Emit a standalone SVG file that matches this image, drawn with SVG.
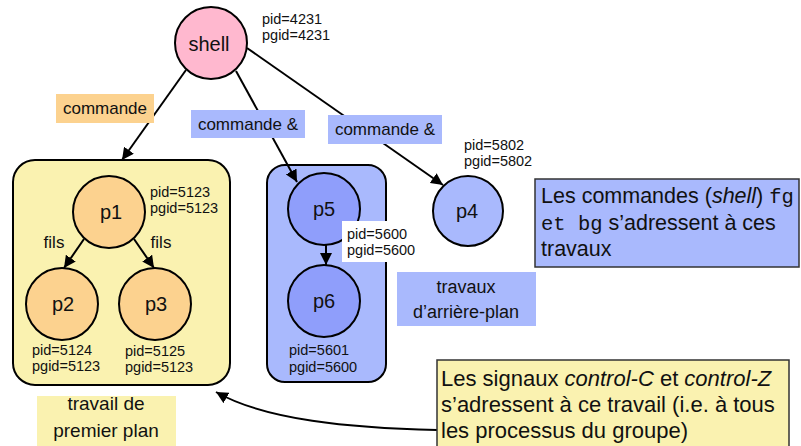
<svg xmlns="http://www.w3.org/2000/svg" width="801" height="446" viewBox="0 0 801 446">
<defs>
<style>
text{font-family:"Liberation Sans",Arial,sans-serif;fill:#111}
.node{stroke:#000;stroke-width:2}
.pink{fill:#FFB8CF}
.orange{fill:#FCD28F}
.blue{fill:#A9B9FD}
.dblue{fill:#8F9EFB}
.yellow{fill:#FAF2B0}
.lbl{font-size:20px;text-anchor:middle}
.pid{font-size:14.5px}
.tag{font-size:17px;text-anchor:middle}
.note{font-size:21.5px}
.note2{font-size:22px}
.mono{font-family:"Liberation Mono","Courier New",monospace;font-size:20.5px}
.conn{fill:none;stroke:#000;stroke-width:2;marker-end:url(#arr)}
.box{stroke:#000;stroke-width:2}
.nbox{stroke:#333;stroke-width:1.5}
</style>
<marker id="arr" markerUnits="userSpaceOnUse" markerWidth="14" markerHeight="12" refX="12" refY="6" orient="auto">
<path d="M0,0 L12,6 L0,12 Z" fill="#000"/>
</marker>
</defs>
<rect width="801" height="446" fill="#fff"/>

<g id="job-foreground">
<rect class="yellow box" x="13" y="160" width="217" height="225" rx="22"/>
</g>
<g id="job-background">
<rect class="blue box" x="267" y="165" width="119" height="217" rx="18"/>
</g>

<g id="connectors">
<line class="conn" x1="186" y1="70" x2="122" y2="160"/>
<line class="conn" x1="236" y1="71" x2="297" y2="182"/>
<line class="conn" x1="247" y1="48" x2="443" y2="185"/>
<line class="conn" x1="84" y1="239" x2="64" y2="268"/>
<line class="conn" x1="134" y1="239" x2="154" y2="268"/>
<line class="conn" x1="326" y1="245" x2="326" y2="265"/>
<path class="conn" d="M437,430 C350,428 265,420 216,392"/>
</g>

<g id="shell">
<circle class="node pink" cx="211" cy="43" r="36"/>
<text class="lbl" x="209" y="51">shell</text>
<text class="pid" x="262" y="24">pid=4231</text>
<text class="pid" x="262" y="40">pgid=4231</text>
</g>

<g id="label-commande">
<rect class="orange" x="56" y="94" width="98" height="29"/>
<text class="tag" x="105" y="114">commande</text>
</g>
<g id="label-commande-bg1">
<rect class="blue" x="191" y="110" width="114" height="28"/>
<text class="tag" x="248" y="130">commande &amp;</text>
</g>
<g id="label-commande-bg2">
<rect class="blue" x="328" y="115" width="114" height="29"/>
<text class="tag" x="385" y="135">commande &amp;</text>
</g>

<g id="p1">
<circle class="node orange" cx="109" cy="212" r="36"/>
<text class="lbl" x="111" y="219">p1</text>
<text class="pid" x="150" y="197">pid=5123</text>
<text class="pid" x="150" y="213">pgid=5123</text>
<text class="tag" x="54" y="248">fils</text>
<text class="tag" x="161" y="248">fils</text>
</g>
<g id="p2">
<circle class="node orange" cx="62" cy="304" r="36"/>
<text class="lbl" x="63" y="311">p2</text>
<text class="pid" x="32" y="355">pid=5124</text>
<text class="pid" x="32" y="371">pgid=5123</text>
</g>
<g id="p3">
<circle class="node orange" cx="155" cy="304" r="36"/>
<text class="lbl" x="156" y="311">p3</text>
<text class="pid" x="125" y="356">pid=5125</text>
<text class="pid" x="125" y="372">pgid=5123</text>
</g>

<g id="p5">
<circle class="node dblue" cx="324" cy="209" r="36"/>
<text class="lbl" x="324" y="216">p5</text>
<rect x="342" y="221" width="75" height="41" fill="#fff"/>
<text class="pid" x="347" y="239">pid=5600</text>
<text class="pid" x="347" y="255">pgid=5600</text>
</g>
<g id="p6">
<circle class="node dblue" cx="324" cy="301" r="36"/>
<text class="lbl" x="324" y="308">p6</text>
<text class="pid" x="289" y="355">pid=5601</text>
<text class="pid" x="289" y="372">pgid=5600</text>
</g>
<g id="p4">
<circle class="node blue" cx="468" cy="211" r="35"/>
<text class="lbl" x="467" y="218">p4</text>
<text class="pid" x="464" y="150">pid=5802</text>
<text class="pid" x="464" y="166">pgid=5802</text>
</g>

<g id="label-travaux-arriere-plan">
<rect class="blue" x="397" y="272" width="139" height="54"/>
<text class="tag" x="466" y="293" style="font-size:18px">travaux</text>
<text class="tag" x="466" y="318" style="font-size:18px">d’arrière-plan</text>
</g>
<g id="label-travail-premier-plan">
<rect class="yellow" x="37" y="396" width="139" height="50"/>
<text class="tag" x="106" y="410" style="font-size:19px">travail de</text>
<text class="tag" x="106" y="437" style="font-size:19px">premier plan</text>
</g>

<g id="note-fg-bg">
<rect class="blue nbox" x="535" y="179" width="264" height="88"/>
<text class="note" x="541" y="203">Les commandes (<tspan font-style="italic">shell</tspan>) <tspan class="mono">fg</tspan></text>
<text class="note" x="541" y="230"><tspan class="mono">et bg</tspan> s’adressent à ces</text>
<text class="note" x="541" y="256">travaux</text>
</g>
<g id="note-signals">
<rect class="yellow nbox" x="437" y="360" width="352" height="95"/>
<text class="note2" x="441" y="386">Les signaux <tspan font-style="italic">control-C</tspan> et <tspan font-style="italic">control-Z</tspan></text>
<text class="note2" x="441" y="412">s’adressent à ce travail (i.e. à tous</text>
<text class="note2" x="441" y="438">les processus du groupe)</text>
</g>
</svg>
